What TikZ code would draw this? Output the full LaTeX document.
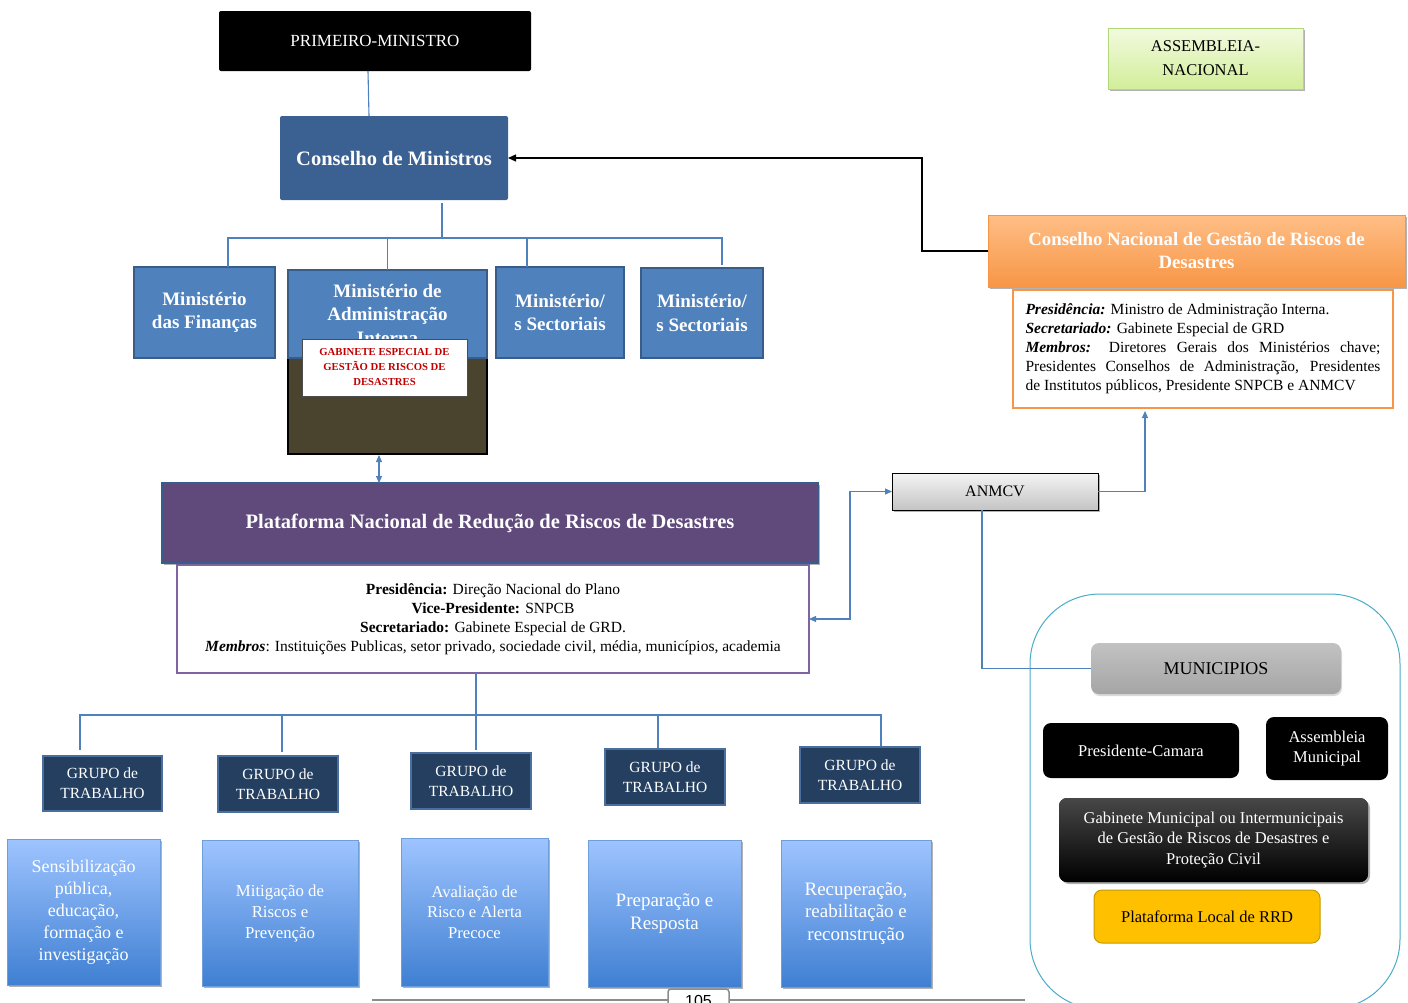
\documentclass[tikz,border=0pt]{standalone}
\usepackage{fontspec}
\setmainfont{Liberation Serif}
\newfontfamily\sansf{Liberation Sans}
\usetikzlibrary{shadows,arrows.meta,calc}
\definecolor{minblue}{HTML}{4F81BD}
\definecolor{mindark}{HTML}{385D8A}
\definecolor{cmblue}{HTML}{3A6191}
\definecolor{dkfill}{RGB}{74,67,46}
\definecolor{gbred}{HTML}{C00000}
\definecolor{ptpurple}{HTML}{604A7B}
\definecolor{pipurple}{HTML}{8064A2}
\definecolor{cgtop}{HTML}{FFBE86}
\definecolor{cgbot}{HTML}{F79646}
\definecolor{asstop}{HTML}{F2FADF}
\definecolor{assbot}{HTML}{D2EE9A}
\definecolor{assdraw}{HTML}{B3D87A}
\definecolor{anTop}{HTML}{F4F4F4}
\definecolor{anBot}{HTML}{C4C4C4}
\definecolor{muncyan}{HTML}{4BACC6}
\definecolor{munTop}{HTML}{C2C2C2}
\definecolor{munBot}{HTML}{A5A5A5}
\definecolor{plyellow}{HTML}{FFC000}
\definecolor{plborder}{HTML}{C49A00}
\definecolor{grpfill}{HTML}{243F60}
\definecolor{grpdraw}{HTML}{4A6E9E}
\definecolor{wgtop}{HTML}{9EC4FF}
\definecolor{wgbot}{HTML}{3F7FD2}
\definecolor{wgdraw}{HTML}{6F9FDA}
\definecolor{lineblue}{HTML}{4F81BD}
\definecolor{footgray}{HTML}{8C8C8C}
\newcommand\fsz[2]{\fontsize{#1}{#2}\selectfont}
\newcommand\pbox[7]{\node[#2, minimum width={#5-#3}, minimum height={#6-#4}] (#1) at ({(#3+#5)/2},{(#4+#6)/2}) {#7};}
\begin{document}
\begin{tikzpicture}[x=1pt,y=-1pt,
  base/.style={inner sep=0pt, outer sep=0pt, align=center},
  sh/.style={drop shadow={shadow xshift=2pt, shadow yshift=-2pt, opacity=0.3, fill=black}},
  mini/.style={base, fill=minblue, draw=mindark, line width=2pt, text=white, font=\fsz{19}{23.5}\bfseries},
  grp/.style={base, fill=grpfill, draw=grpdraw, line width=1.8pt, text=white, font=\fsz{15.5}{20}},
  wg/.style={base, top color=wgtop, bottom color=wgbot, draw=wgdraw, line width=0.6pt, text=white, sh},
  blk/.style={base, fill=black, rounded corners=8pt, text=white},
  conn/.style={draw=lineblue, line width=1.1pt},
  tip/.style={-{Triangle[length=7pt,width=6pt]}},
  tips/.style={{Triangle[length=7pt,width=6pt]}-{Triangle[length=7pt,width=6pt]}}]
\useasboundingbox (0,0) rectangle (1408,1002);
\fill[white] (0,0) rectangle (1408,1002);

% top
\pbox{pm}{base, fill=black, rounded corners=2pt, text=white, font=\fsz{17}{20}}{219}{11}{531}{71}{PRIMEIRO-MINISTRO}
\pbox{cm}{base, fill=cmblue, rounded corners=2pt, text=white, font=\fsz{20.5}{24}\bfseries}{280}{116}{508}{200}{Conselho de Ministros}
\pbox{as}{base, top color=asstop, bottom color=assbot, draw=assdraw, line width=1pt, sh, font=\fsz{16.5}{24}}{1108}{28}{1303}{89}{ASSEMBLEIA-\\NACIONAL}

% ministries
\pbox{m1}{mini}{134}{267}{275}{358}{Ministério\\das Finanças}
\pbox{dk}{base, fill=dkfill, draw=black, line width=2pt}{288}{358}{487}{454}{}
\pbox{m2}{mini}{288}{270}{487}{358}{Ministério de\\Administração\\Interna}
\pbox{gb}{base, fill=white, draw=gray!60!black, line width=0.8pt, text=gbred, font=\fsz{10.7}{15}\bfseries}{302}{339}{467}{396}{GABINETE ESPECIAL DE\\GESTÃO DE RISCOS DE\\DESASTRES}
\pbox{m3}{mini}{496}{267}{624}{358}{Ministério/\\s Sectoriais}
\pbox{m4}{mini}{641}{268}{763}{358}{Ministério/\\s Sectoriais}

% plataforma
\pbox{pt}{base, fill=ptpurple, draw=mindark, line width=2pt, sh, text=white, font=\fsz{20.5}{24}\bfseries}{162}{483}{818}{563}{Plataforma Nacional de Redução de Riscos de Desastres}
\pbox{pi}{base, fill=white, draw=pipurple, line width=2.5pt, font=\fsz{15.5}{19}}{177}{565}{809}{673}{\textbf{Presidência:} Direção Nacional do Plano\\\textbf{Vice-Presidente:} SNPCB\\\textbf{Secretariado:} Gabinete Especial de GRD.\\\textbf{\textit{Membros}}: Instituições Publicas, setor privado, sociedade civil, média, municípios, academia}

% CNGRD
\pbox{cg}{base, top color=cgtop, bottom color=cgbot, draw=cgbot, line width=0.8pt, sh, text=white, font=\fsz{18.8}{23}\bfseries}{988}{215}{1405}{287}{Conselho Nacional de Gestão de Riscos de\\Desastres}
\pbox{ci}{base, fill=white, draw=cgbot, line width=2.5pt, text width=355pt, align=justify, font=\fsz{15.5}{19}}{1013}{290}{1393}{408}{\textbf{\textit{Presidência:}} Ministro de Administração Interna.\\\textbf{\textit{Secretariado:}} Gabinete Especial de GRD\\\textbf{\textit{Membros:}} Diretores Gerais dos Ministérios chave;\linebreak Presidentes Conselhos de Administração, Presidentes\linebreak de Institutos públicos, Presidente SNPCB e ANMCV}

% ANMCV
\pbox{an}{base, top color=anTop, bottom color=anBot, draw=black, line width=1pt, sh, font=\fsz{16}{19}}{892}{473}{1098}{510}{ANMCV}

% municipios
\pbox{mc}{base, draw=muncyan, line width=1pt, rounded corners=70pt}{1030}{594}{1400}{1009}{}
\pbox{mun}{base, top color=munTop, bottom color=munBot, rounded corners=8pt, drop shadow={shadow xshift=1pt, shadow yshift=-2pt, opacity=0.15, fill=black}, font=\fsz{18}{22}}{1091}{643}{1341}{694}{MUNICIPIOS}
\pbox{pc}{blk, font=\fsz{16.5}{20}}{1043}{723}{1239}{778}{Presidente-Camara}
\pbox{am}{blk, font=\fsz{16.5}{20}}{1266}{717}{1388}{780}{Assembleia\\Municipal}
\pbox{gm}{blk, top color=black!72, bottom color=black, sh, font=\fsz{16.5}{20.5}}{1059}{798}{1368}{882}{Gabinete Municipal ou Intermunicipais\\de Gestão de Riscos de Desastres e\\Proteção Civil}
\pbox{pl}{base, fill=plyellow, draw=plborder, line width=1pt, rounded corners=8pt, font=\fsz{16.5}{20}}{1094}{890}{1320}{943}{Plataforma Local de RRD}

% grupos
\pbox{g1}{grp}{43}{756}{162}{811}{GRUPO de\\TRABALHO}
\pbox{g2}{grp}{218}{756}{338}{812}{GRUPO de\\TRABALHO}
\pbox{g3}{grp}{411}{753}{531}{809}{GRUPO de\\TRABALHO}
\pbox{g4}{grp}{605}{749}{725}{805}{GRUPO de\\TRABALHO}
\pbox{g5}{grp}{800}{747}{920}{803}{GRUPO de\\TRABALHO}

% work areas
\pbox{w1}{wg, font=\fsz{18}{22}}{7}{839}{160}{985}{Sensibilização\\pública,\\educação,\\formação e\\investigação}
\pbox{w2}{wg, font=\fsz{16.8}{21}}{202}{840}{358}{986}{Mitigação de\\Riscos e\\Prevenção}
\pbox{w3}{wg, font=\fsz{16.6}{20.5}}{401}{838}{548}{986}{Avaliação de\\Risco e Alerta\\Precoce}
\pbox{w4}{wg, font=\fsz{19}{23}}{588}{840}{741}{987}{Preparação e\\Resposta}
\pbox{w5}{wg, font=\fsz{19}{22.5}}{781}{840}{931}{987}{Recuperação,\\reabilitação e\\reconstrução}

% connectors top
\draw[conn] ($(pm.south)+(-7,0)$) -- ($(cm.north)+(-25,0)$);
\coordinate (hA) at (442,238);
\draw[conn] ($(cm.south)+(48,3)$) -- (hA);
\draw[conn] ($(m1.north)+(23.5,0)$) |- (hA);
\draw[conn] ($(m4.north)+(20,-3)$) |- (hA);
\draw[conn] (m2.north) -- (m2.north |- hA);
\coordinate (m3t) at ($(m3.north)+(-33,0)$);
\draw[conn] (m3t) -- (m3t |- hA);

\draw[line width=1.2pt, -{Triangle[length=8pt,width=7pt]}] (cg.west) -- ++(-66,0) |- (cm.east);

\coordinate (da) at ($(dk.south)+(-8.5,1)$);
\draw[conn, tips] (da) -- (da |- pt.north);

\draw[conn, tips] (pi.east) -- ++(41,0) |- (an.west);
\draw[conn, tip] (an.east) -| ($(ci.south)+(-58,3)$);
\draw[conn] ($(an.south)+(-13,0)$) |- (mun.west);

% connectors grupos
\coordinate (hB) at (476,715);
\draw[conn] ($(pi.south)+(-17,0)$) -- (hB);
\draw[conn] ($(g1.north)+(-22.5,-6)$) |- (hB);
\draw[conn] ($(g5.north)+(21,-1)$) |- (hB);
\coordinate (g2t) at ($(g2.north)+(4,-4)$);
\draw[conn] (g2t) -- (g2t |- hB);
\coordinate (g3t) at ($(g3.north)+(5,-3)$);
\draw[conn] (g3t) -- (g3t |- hB);
\coordinate (g4t) at ($(g4.north)+(-7,-1)$);
\draw[conn] (g4t) -- (g4t |- hB);

% footer
\draw[footgray, line width=1.5pt] (372,1000) -- (668,1000);
\draw[footgray, line width=1.5pt] (729,1000) -- (1025,1000);
\draw[footgray, line width=1.5pt, rounded corners=3pt] (668,1003) -- (668,989) -- (729,989) -- (729,1003);
\node[anchor=base, inner sep=0pt, font=\sansf\fsz{16}{19}] (pg) at (698.5,1006) {105};
\end{tikzpicture}
\end{document}
